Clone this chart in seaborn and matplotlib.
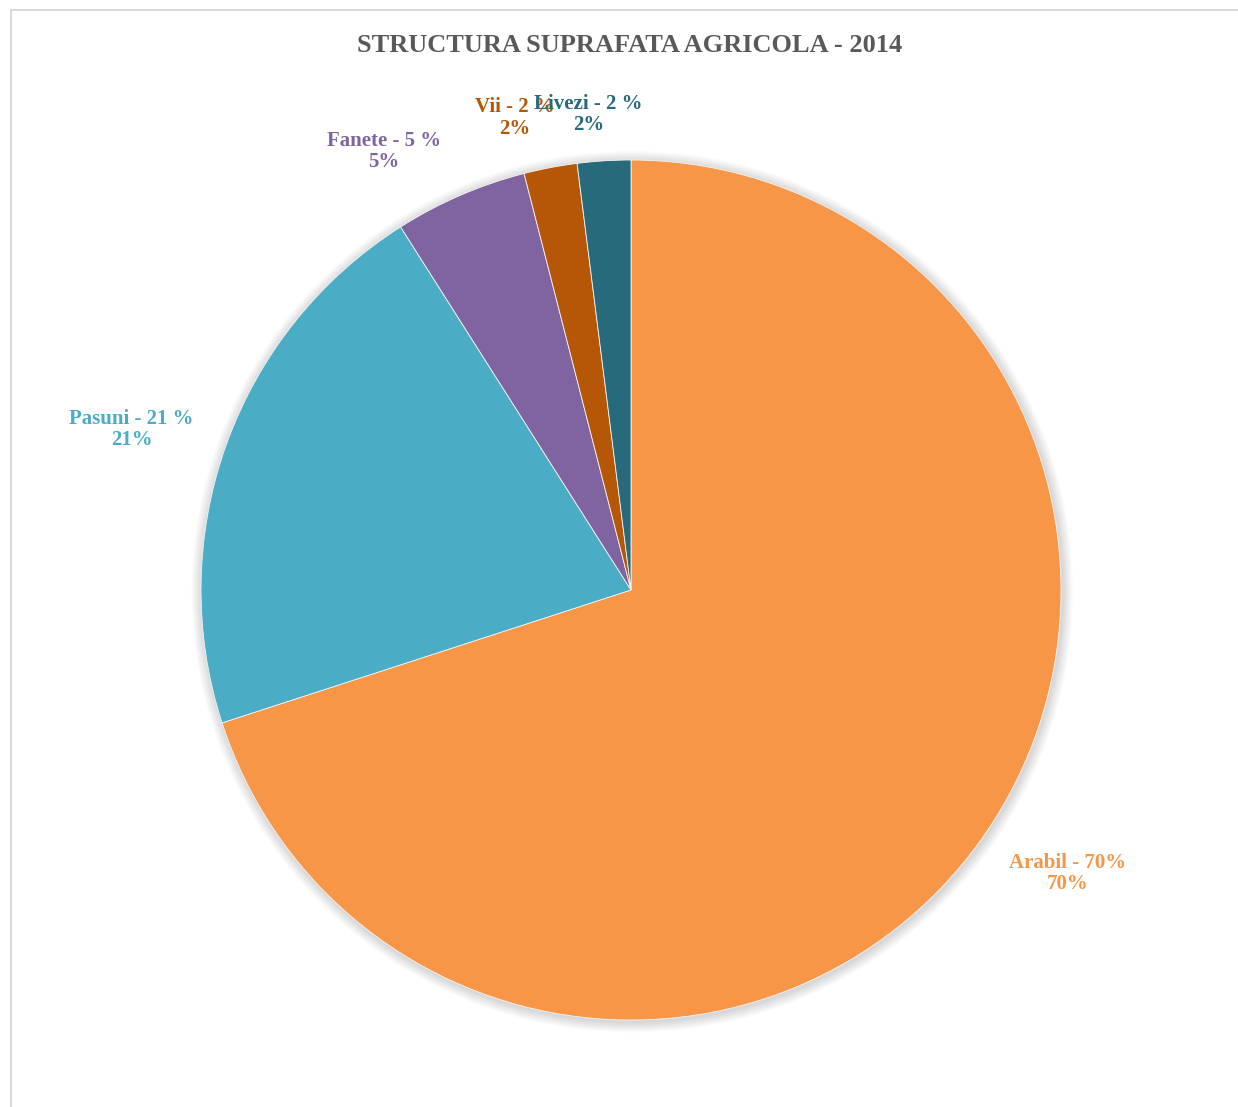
import matplotlib
matplotlib.use("Agg")
import matplotlib.pyplot as plt
import matplotlib.patches as mpatches
import numpy as np
import seaborn as sns

# date grafic
categorii = ["Arabil", "Pasuni", "Fanete", "Vii", "Livezi"]
procente = [70, 21, 5, 2, 2]
etichete = ["Arabil - 70%", "Pasuni - 21 %", "Fanete - 5 %", "Vii - 2 %", "Livezi - 2 %"]
culori = ["#F79646", "#4BACC6", "#8064A2", "#B65708", "#276A7B"]

sns.set_theme(style="white")
plt.rcParams['font.family'] = ['Liberation Serif', 'DejaVu Serif']

fig = plt.figure(figsize=(12.38, 11.07), dpi=100)
fig.patch.set_facecolor("white")

# chenar gri al graficului
chenar = mpatches.Rectangle((11 / 1238, -0.05), 1.2, 1 - 10 / 1107 + 0.05,
                            transform=fig.transFigure, fill=False,
                            edgecolor="#D9D9D9", linewidth=1.5)
fig.patches.append(chenar)

W, H = 1238, 1107
cx, cy, r = 631, 590, 430
ax = fig.add_axes([(cx - r) / W, (H - cy - r) / H, 2 * r / W, 2 * r / H])

# umbra difuza in jurul pie-ului
for k in range(10):
    ax.add_patch(mpatches.Circle((0.003, -0.004), 1.0 + 0.0025 * (10 - k),
                                 color="black", alpha=0.016, linewidth=0,
                                 zorder=0, clip_on=False))

paleta = sns.color_palette(culori)
wedges, _ = ax.pie(procente, colors=paleta, startangle=90, counterclock=False,
                   radius=1.0, wedgeprops=dict(linewidth=0.6, edgecolor="#f4f4f4"))
for w in wedges:
    w.set_zorder(2)
    w.set_clip_on(False)

# etichete - distanta si decalaj unghiular pentru fiecare felie
dist = [1.21, 1.22, 1.17, 1.13, 1.11]
decalaj = [3, 2, 6, 3, 1.5]
for w, et, p, c, d, dd in zip(wedges, etichete, procente, culori, dist, decalaj):
    ang = np.deg2rad((w.theta1 + w.theta2) / 2 + dd)
    ax.text(d * np.cos(ang), d * np.sin(ang), f"{et}\n{p}%", color=c,
            ha="center", va="center", fontsize=15, fontweight="bold",
            linespacing=1.1, zorder=5)

ax.set_xlim(-1, 1)
ax.set_ylim(-1, 1)
ax.set_aspect("equal")
ax.axis("off")

fig.text(630 / W, 1 - 46 / H, "STRUCTURA SUPRAFATA AGRICOLA - 2014",
         ha="center", va="center", fontsize=19, fontweight="bold", color="#595959")

fig.savefig("out.png", dpi=100)
